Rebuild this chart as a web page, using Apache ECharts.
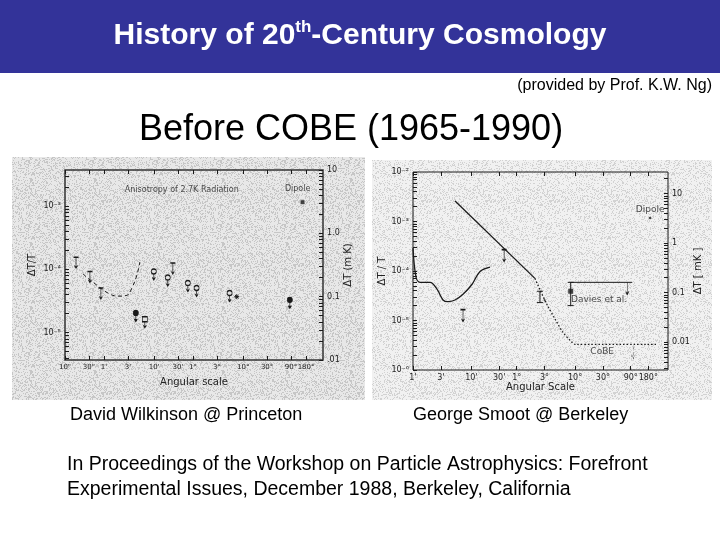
<!DOCTYPE html>
<html>
<head>
<meta charset="utf-8">
<script src="https://cdn.jsdelivr.net/npm/echarts@6/dist/echarts.min.js"></script>
<style>
  html, body { margin: 0; padding: 0; background: #fff; }
  #main { width: 720px; height: 540px; }
</style>
</head>
<body>
<div id="main"></div>
<script>
// ---- Wilkinson plot: x = angular scale (arcsec), y = ΔT (mK) ----
const wilkXTicks  = [10, 30, 60, 180, 600, 1800, 3600, 10800, 36000, 108000, 324000, 648000];
const wilkXLabels = ['10"', '30"', "1'", "3'", "10'", "30'", '1°', '3°', '10°', '30°', '90°', '180°'];
const wilkLeftTicks  = [1e-5, 1e-4, 1e-3];
const wilkLeftLabels = ['10⁻⁵', '10⁻⁴', '10⁻³'];
const wilkRightTicks  = [0.01, 0.1, 1, 10];
const wilkRightLabels = ['.01', '0.1', '1.0', '10'];

const wilkDashed = [[22.8, 0.228], [36, 0.17], [72, 0.114], [114, 0.102], [172, 0.105], [216, 0.137], [272, 0.219], [312, 0.352]];
const wilkOpenCircles = [[592, 0.25], [1125, 0.2], [2830, 0.164], [4230, 0.137], [19300, 0.114]];
const wilkFilledCircles = [[259, 0.055], [307000, 0.089]];
const wilkOpenSquares = [[392, 0.044]];
const wilkBarLimits = [[16.6, 0.42], [31.4, 0.25], [52, 0.137], [1420, 0.34]];
const wilkStars = [[26800, 0.1]];
const wilkDipole = [[550000, 3.1]];

// ---- Smoot plot: x = angular scale (arcmin), y = ΔT/T ----
const smootXTicks  = [1, 3, 10, 30, 60, 180, 600, 1800, 5400, 10800];
const smootXLabels = ["1'", "3'", "10'", "30'", '1°', '3°', '10°', '30°', '90°', '180°'];
const smootLeftTicks  = [1e-6, 1e-5, 1e-4, 1e-3, 1e-2];
const smootLeftLabels = ['10⁻⁶', '10⁻⁵', '10⁻⁴', '10⁻³', '10⁻²'];
const smootRightTicks  = [0.01, 0.1, 1, 10];
const smootRightLabels = ['0.01', '0.1', '1', '10'];

const smootTheory = [[1.0, 2.9e-4], [1.13, 7.4e-5], [1.32, 5.9e-5], [1.96, 5.9e-5], [2.58, 4.3e-5], [3.27, 2.6e-5], [3.98, 2.4e-5], [5.25, 2.6e-5], [7.2, 3.4e-5], [10.3, 5.4e-5], [14.1, 9.8e-5], [20.9, 1.2e-4]];
const smootLine = [[5.26, 2.6e-3], [123, 7.1e-5]];
const smootDotted = [[123, 7.1e-5], [150, 4.2e-5], [198, 2.1e-5], [275, 1.05e-5], [375, 5.7e-6], [535, 3.6e-6], [600, 3.3e-6], [15000, 3.3e-6]];
const smootDaviesLine = [[500, 5.9e-5], [5700, 5.9e-5]];
const smootDaviesBar = [[505, 5.9e-5], [505, 2.0e-5]];
const smootDaviesPoint = [[505, 3.9e-5]];
const smootDaviesLimit = [[4700, 5.9e-5]];
const smootErrBar = [[150, 3.9e-5], [150, 2.3e-5]];
const smootErrDot = [[180, 2.6e-5]];
const smootLimits = [[36.5, 2.7e-4], [7.2, 1.66e-5]];
const smootCobeLimit = [[5950, 3.0e-6]];
const smootDipole = [[11600, 1.18e-3]];

const T0 = 2700;      // mK, ΔT = T0 · ΔT/T for the Wilkinson plot
const T0s = 2730;     // mK, Smoot plot
const lg = Math.log10;
const INK = '#1a1a1a';

function fmt(ticks, labels) {
  return v => {
    const i = ticks.findIndex(t => Math.abs(lg(t) - v) < 1e-6);
    return i < 0 ? '' : labels[i];
  };
}
function minorTicks(lo, hi) {
  const out = [];
  for (let n = lo; n <= hi; n++) for (let k = 1; k < 10; k++) out.push(n + lg(k));
  return out;
}

// speckled "scanned paper" texture, deterministic
function speckle(base, dot, share) {
  const c = document.createElement('canvas');
  c.width = c.height = 64;
  const ctx = c.getContext('2d');
  ctx.fillStyle = base; ctx.fillRect(0, 0, 64, 64);
  ctx.fillStyle = dot;
  let s = 12345;
  for (let i = 0; i < 64 * 64; i++) {
    s = (s * 1103515245 + 12345) & 0x7fffffff;
    if ((s >> 8) % 1000 < share * 1000) ctx.fillRect(i % 64, (i / 64) | 0, 1, 1);
  }
  return { image: c, repeat: 'repeat' };
}

const labelFont = { fontFamily: 'DejaVu Sans', fontSize: 8, color: '#222' };
const nameFont = { fontFamily: 'DejaVu Sans', fontSize: 10, color: '#222' };

function valAxis(grid, pos, min, max, tickVals, labelVals, formatter, extra) {
  return Object.assign({
    type: 'value', gridIndex: grid, position: pos, min: min, max: max,
    splitLine: { show: false }, axisLine: { show: false },
    axisTick: { show: true, inside: true, length: 4, customValues: tickVals, lineStyle: { color: INK } },
    axisLabel: labelVals
      ? Object.assign({ customValues: labelVals, formatter: formatter, margin: 4, hideOverlap: false, showMinLabel: true, showMaxLabel: true }, labelFont)
      : { show: false },
    nameTextStyle: nameFont
  }, extra || {});
}

// symbol paths (value point sits at circle centre / bar top)
const P_LOLLI = 'path://M0,2.5A2.5,2.5 0 1 1 5,2.5A2.5,2.5 0 1 1 0,2.5Z M2.5,5L2.5,11 M1,8.5L2.5,11L4,8.5';
const P_SQLOLLI = 'path://M0,0L5,0L5,5L0,5Z M2.5,5L2.5,11 M1,8.5L2.5,11L4,8.5';
const P_BARLIM = 'path://M0,0L5,0 M2.5,0L2.5,11 M1,8.5L2.5,11L4,8.5';
const P_ARROW = 'path://M2.5,0L2.5,11 M1,8.5L2.5,11L4,8.5';
const P_STAR = 'path://M0,2.5L5,2.5 M2.5,0L2.5,5 M0.7,0.7L4.3,4.3 M4.3,0.7L0.7,4.3';

function marks(gi, data, symbol, size, offset, fill, extra) {
  return Object.assign({
    type: 'scatter', xAxisIndex: gi * 3, yAxisIndex: gi * 3, data: data,
    symbol: symbol, symbolSize: size, symbolOffset: offset, symbolKeepAspect: false,
    itemStyle: { color: fill, borderColor: INK, borderWidth: 1, opacity: 1 },
    silent: true, z: 5
  }, extra || {});
}
function curve(gi, data, style, extra) {
  return Object.assign({
    type: 'line', xAxisIndex: gi * 3, yAxisIndex: gi * 3, data: data,
    showSymbol: false, symbol: 'none', lineStyle: Object.assign({ color: INK, width: 1 }, style),
    silent: true, z: 4
  }, extra || {});
}
function note(gi, x, y, text, size) {
  return {
    type: 'scatter', xAxisIndex: gi * 3, yAxisIndex: gi * 3, data: [[x, y, text]],
    symbolSize: 1, itemStyle: { color: 'rgba(0,0,0,0)' }, silent: true,
    label: { show: true, position: 'inside', formatter: p => p.data[2], fontFamily: 'DejaVu Sans', fontSize: size, color: '#222' }
  };
}

const wXmax = 1.41e6, sXmax = 23500;
const BG1 = '#e0e0e0', BG2 = '#ececec';

const wilkXAxis = valAxis(0, 'bottom', 1, lg(wXmax), wilkXTicks.map(lg), wilkXTicks.map(lg), fmt(wilkXTicks, wilkXLabels),
  { name: 'Angular scale', nameLocation: 'middle', nameGap: 17 });
wilkXAxis.axisLabel.fontSize = 7;

const chart = echarts.init(document.getElementById('main'), null, { renderer: 'canvas' });
chart.setOption({
  animation: false,
  backgroundColor: '#ffffff',
  graphic: [
    { type: 'rect', shape: { x: 0, y: 0, width: 720, height: 73 }, style: { fill: '#333399' }, z: -10 },
    { type: 'rect', shape: { x: 12, y: 157, width: 353, height: 243 }, style: { fill: speckle('#e8e8e8', '#c6c6c6', 0.3) }, z: -10 },
    { type: 'rect', shape: { x: 372, y: 160, width: 340, height: 240 }, style: { fill: speckle('#f1f1f1', '#d2d2d2', 0.25) }, z: -10 },
    { type: 'text', x: 360, y: 36, style: {
        text: '{a|History of 20}{s|th}{a|-Century Cosmology}', align: 'center', verticalAlign: 'middle',
        rich: {
          a: { fontFamily: 'Liberation Sans', fontWeight: 'bold', fontSize: 30, lineHeight: 34, fill: '#fff', color: '#fff' },
          s: { fontFamily: 'Liberation Sans', fontWeight: 'bold', fontSize: 17, lineHeight: 17, verticalAlign: 'top', fill: '#fff', color: '#fff' }
        } } },
    { type: 'text', x: 712, y: 86, style: { text: '(provided by Prof. K.W. Ng)', font: '16px "Liberation Sans"', fill: '#000', align: 'right', verticalAlign: 'middle' } },
    { type: 'text', x: 351, y: 130, style: { text: 'Before COBE (1965-1990)', font: '36px "Liberation Sans"', fill: '#000', align: 'center', verticalAlign: 'middle' } },
    { type: 'text', x: 70, y: 415, style: { text: 'David Wilkinson @ Princeton', font: '18px "Liberation Sans"', fill: '#000', align: 'left', verticalAlign: 'middle' } },
    { type: 'text', x: 413, y: 415, style: { text: 'George Smoot @ Berkeley', font: '18px "Liberation Sans"', fill: '#000', align: 'left', verticalAlign: 'middle' } },
    { type: 'text', x: 67, y: 465, style: { text: 'In Proceedings of the Workshop on Particle Astrophysics: Forefront', font: '19.5px "Liberation Sans"', fill: '#000', align: 'left', verticalAlign: 'middle' } },
    { type: 'text', x: 67, y: 490, style: { text: 'Experimental Issues, December 1988, Berkeley, California', font: '19.5px "Liberation Sans"', fill: '#000', align: 'left', verticalAlign: 'middle' } }
  ],
  grid: [
    { left: 65, top: 170, width: 258, height: 190, show: true, backgroundColor: 'transparent', borderColor: '#333', borderWidth: 1.5 },
    { left: 413, top: 172, width: 255, height: 198, show: true, backgroundColor: 'transparent', borderColor: INK, borderWidth: 1 }
  ],
  xAxis: [
    { type: 'log', gridIndex: 0, min: 10, max: wXmax, show: false },
    wilkXAxis,
    valAxis(0, 'top', 1, lg(wXmax), wilkXTicks.map(lg), null, null),
    { type: 'log', gridIndex: 1, min: 1, max: sXmax, show: false },
    valAxis(1, 'bottom', 0, lg(sXmax), smootXTicks.map(lg), smootXTicks.map(lg), fmt(smootXTicks, smootXLabels),
      { name: 'Angular Scale', nameLocation: 'middle', nameGap: 8 }),
    valAxis(1, 'top', 0, lg(sXmax), smootXTicks.map(lg), null, null)
  ],
  yAxis: [
    { type: 'log', gridIndex: 0, min: 0.01, max: 10, show: false },
    valAxis(0, 'left', lg(0.01 / T0), lg(10 / T0), minorTicks(-6, -3), wilkLeftTicks.map(lg), fmt(wilkLeftTicks, wilkLeftLabels),
      { name: 'ΔT/T', nameLocation: 'middle', nameGap: 28, nameRotate: 90 }),
    valAxis(0, 'right', -2, 1, minorTicks(-2, 1), wilkRightTicks.map(lg), fmt(wilkRightTicks, wilkRightLabels),
      { name: 'ΔT (m K)', nameLocation: 'middle', nameGap: 6, nameRotate: 90 }),
    { type: 'log', gridIndex: 1, min: 1e-6, max: 1e-2, show: false },
    valAxis(1, 'left', -6, -2, minorTicks(-6, -2), smootLeftTicks.map(lg), fmt(smootLeftTicks, smootLeftLabels),
      { name: 'ΔT / T', nameLocation: 'middle', nameGap: 22, nameRotate: 90 }),
    valAxis(1, 'right', lg(T0s * 1e-6), lg(T0s * 1e-2), minorTicks(-3, 1), smootRightTicks.map(lg), fmt(smootRightTicks, smootRightLabels),
      { name: 'ΔT [ mK ]', nameLocation: 'middle', nameGap: 24, nameRotate: 90 })
  ],
  series: [
    // Wilkinson
    curve(0, wilkDashed, { type: [4, 3] }, { smooth: 0.4 }),
    marks(0, wilkOpenCircles, P_LOLLI, [5, 11], [0, 3], BG1),
    marks(0, wilkFilledCircles, P_LOLLI, [5, 11], [0, 3], INK),
    marks(0, wilkOpenSquares, P_SQLOLLI, [5, 11], [0, 3], BG1),
    marks(0, wilkBarLimits, P_BARLIM, [5, 11], [0, 5.5], BG1),
    marks(0, wilkStars, P_STAR, [5, 5], [0, 0], BG1),
    marks(0, wilkDipole, 'rect', [4, 4], [0, 0], INK, { itemStyle: { color: INK } }),
    note(0, 2140, 4.8, 'Anisotropy of 2.7K Radiation', 8),
    note(0, 440000, 5.0, 'Dipole', 8),
    // Smoot
    curve(1, smootTheory, { width: 1.3 }, { smooth: 0.35 }),
    curve(1, smootLine, { width: 1.3 }),
    curve(1, smootDotted, { type: [1.5, 2], width: 1.3 }, { smooth: 0.3 }),
    curve(1, smootDaviesLine, { width: 1 }),
    curve(1, smootDaviesBar, { width: 1 }, { showSymbol: true, symbol: 'rect', symbolSize: [6, 1], itemStyle: { color: INK } }),
    curve(1, smootErrBar, { width: 1 }, { showSymbol: true, symbol: 'rect', symbolSize: [6, 1], itemStyle: { color: INK } }),
    marks(1, smootDaviesPoint, 'rect', [5, 5], [0, 0], INK, { itemStyle: { color: INK } }),
    marks(1, smootErrDot, 'circle', [2, 2], [0, 0], INK, { itemStyle: { color: INK } }),
    marks(1, smootDaviesLimit, P_ARROW, [3, 12], [0, 6], BG2),
    marks(1, smootLimits, P_BARLIM, [5, 12], [0, 6], BG2),
    marks(1, smootCobeLimit, P_ARROW, [3, 12], [0, 6], BG2, { itemStyle: { color: BG2, borderColor: INK, borderWidth: 1, borderType: [1.5, 1.5] } }),
    marks(1, smootDipole, 'circle', [2.5, 2.5], [0, 0], INK, { itemStyle: { color: INK } }),
    note(1, 1550, 2.6e-5, 'Davies et al.', 9),
    note(1, 1750, 2.4e-6, 'CoBE', 9),
    note(1, 11600, 1.72e-3, 'Dipole', 9)
  ]
});
</script>
</body>
</html>
